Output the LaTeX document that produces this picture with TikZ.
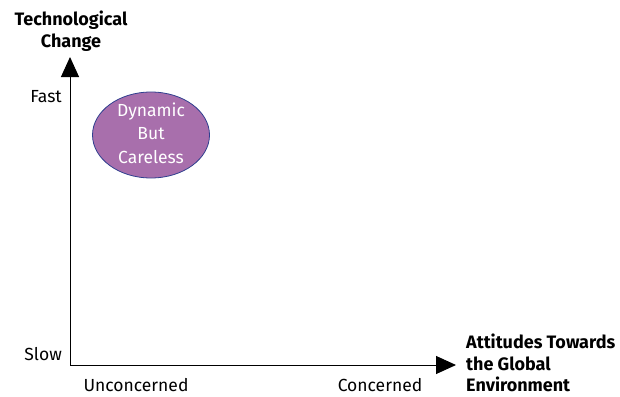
\documentclass[tikz,border=0pt]{standalone}
\usepackage{fontspec}
\setmainfont{Fira Sans}
\usetikzlibrary{arrows.meta,shapes.geometric}
\definecolor{bubble}{HTML}{A86FAC}
\definecolor{bubbleedge}{HTML}{2F3F8F}
\tikzset{
  lbl/.style={font=\fontsize{17.5}{22}\selectfont, inner sep=0pt},
  axtitle/.style={font=\bfseries\fontsize{18}{21.5}\selectfont, inner sep=0pt, align=center},
  axis/.style={line width=1pt, -{Triangle[length=20pt,width=18pt]}},
}
\begin{document}
\begin{tikzpicture}[x=1pt,y=-1pt]
\useasboundingbox (0,0) rectangle (620,396);
\coordinate (o) at (70,365);
\coordinate (ytip) at (70,57);
\coordinate (xtip) at (456,365);
\draw[axis] (o) -- (ytip);
\draw[axis] (o) -- (xtip);
\node[axtitle] (yt) at (71,31) {Technological\\Change};
\node[axtitle, align=left, anchor=west] (xt) at (466,363) {Attitudes Towards\\the Global\\Environment};
\node[lbl, anchor=east] (fast) at (62,97) {Fast};
\node[lbl, anchor=east] (slow) at (62,354) {Slow};
\node[lbl] (unc) at (136,385) {Unconcerned};
\node[lbl] (con) at (380,385) {Concerned};
\node[ellipse, draw=bubbleedge, line width=0.8pt, fill=bubble, minimum width=117pt, minimum height=86pt, inner sep=0pt] (e) at (151,135) {};
\node[lbl, text=white, align=center, font=\fontsize{17.5}{23.5}\selectfont] at ([yshift=2pt]e.center) {Dynamic\\But\\Careless};
\end{tikzpicture}
\end{document}
